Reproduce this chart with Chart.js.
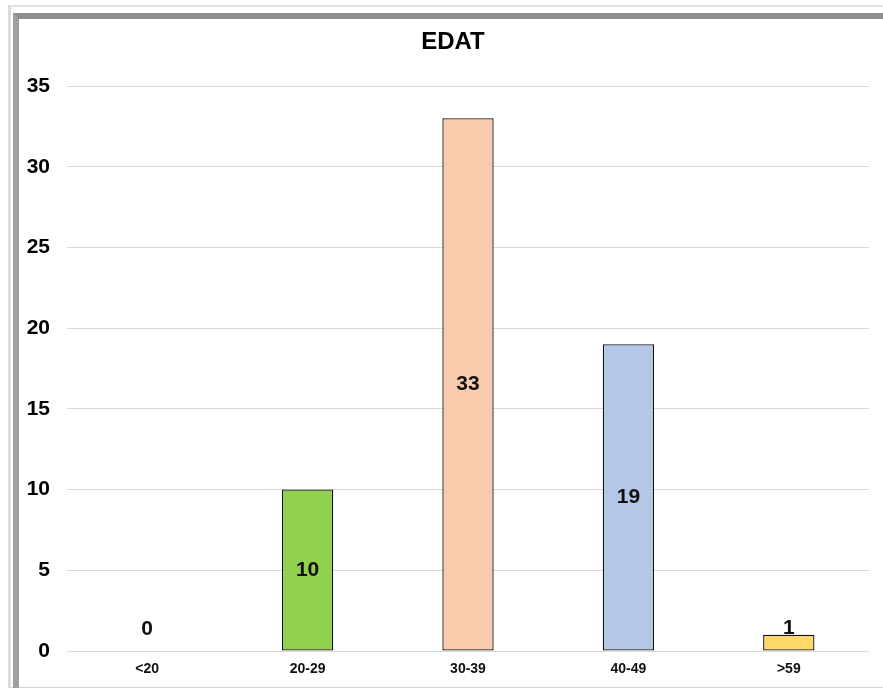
<!DOCTYPE html>
<html>
<head>
<meta charset="utf-8">
<script src="https://cdn.jsdelivr.net/npm/chart.js@4/dist/chart.umd.min.js"></script>
<style>
  html, body { margin: 0; padding: 0; background: #fff; }
  #wrap { position: relative; width: 883px; height: 688px; overflow: hidden; background: #fff; }
  /* marco exterior clar */
  .outer { position: absolute; left: 8px; top: 5px; width: 880px; height: 680px;
           border-top: 2px solid #e2e2e2; border-left: 3px solid #dcdcdc; border-bottom: 2px solid #d4d4d4; }
  /* marco interior fosc */
  .inner { position: absolute; left: 13px; top: 13px; width: 870px; height: 672px;
           border-top: 6px solid #8e8e8e; border-left: 6px solid #a0a0a0; border-right: 1px solid #e0e0e0; }
  canvas { position: absolute; left: 0; top: 0; }
</style>
</head>
<body>
<div id="wrap">
  <div class="outer"></div>
  <div class="inner"></div>
  <canvas id="chart" width="883" height="688"></canvas>
</div>
<script>
const chartTitle = "EDAT";
const categories = ["<20", "20-29", "30-39", "40-49", ">59"];
const values = [0, 10, 33, 19, 1];
const barColors = ["#A9D18E", "#92D050", "#F8CBAD", "#B4C7E7", "#FFD966"];
const yTicks = [0, 5, 10, 15, 20, 25, 30, 35];

const FONT = "'Liberation Sans', Arial, sans-serif";

// titol una mica desplaçat cap a la dreta, com l'original
const titlePlugin = {
  id: "titleText",
  afterDraw(chart) {
    const ctx = chart.ctx;
    ctx.save();
    ctx.font = "bold 24px " + FONT;
    ctx.fillStyle = "#000";
    ctx.textAlign = "center";
    ctx.textBaseline = "middle";
    ctx.fillText(chartTitle, 453, 42);
    ctx.restore();
  }
};

// etiquetes de dades (com a Excel, centrades a la barra)
const dataLabels = {
  id: "dataLabels",
  afterDatasetsDraw(chart) {
    const ctx = chart.ctx;
    const meta = chart.getDatasetMeta(0);
    ctx.save();
    ctx.font = "bold 21px " + FONT;
    ctx.fillStyle = "#111";
    ctx.textAlign = "center";
    ctx.textBaseline = "middle";
    meta.data.forEach((bar, i) => {
      const y = Math.min((bar.y + bar.base) / 2, bar.base - 22);
      ctx.fillText(String(values[i]), bar.x, y);
    });
    ctx.restore();
  }
};

new Chart(document.getElementById("chart"), {
  type: "bar",
  data: {
    labels: categories,
    datasets: [{
      data: values,
      backgroundColor: barColors,
      borderColor: c => (c.raw === 0 ? "rgba(0,0,0,0)" : "#111"),
      borderWidth: 1.3,
      borderSkipped: false,
      barPercentage: 0.32,
      categoryPercentage: 1
    }]
  },
  options: {
    responsive: false,
    animation: false,
    layout: { padding: { left: 24, right: 14, top: 86, bottom: 0 } },
    plugins: {
      legend: { display: false },
      tooltip: { enabled: false },
      title: { display: false }
    },
    scales: {
      x: {
        grid: { display: false, drawTicks: false },
        border: { display: false },
        ticks: { color: "#111", padding: 10, font: { family: FONT, size: 14, weight: "bold" } },
        afterFit: s => { s.height = 37; }
      },
      y: {
        min: 0,
        max: 35,
        afterBuildTicks: s => { s.ticks = yTicks.map(v => ({ value: v })); },
        grid: { color: "#d9d9d9", lineWidth: 1, drawTicks: false },
        border: { display: false },
        ticks: { color: "#000", padding: 17, font: { family: FONT, size: 21, weight: "bold" } },
        afterFit: s => { s.width = 43; }
      }
    }
  },
  plugins: [dataLabels, titlePlugin]
});
</script>
</body>
</html>
